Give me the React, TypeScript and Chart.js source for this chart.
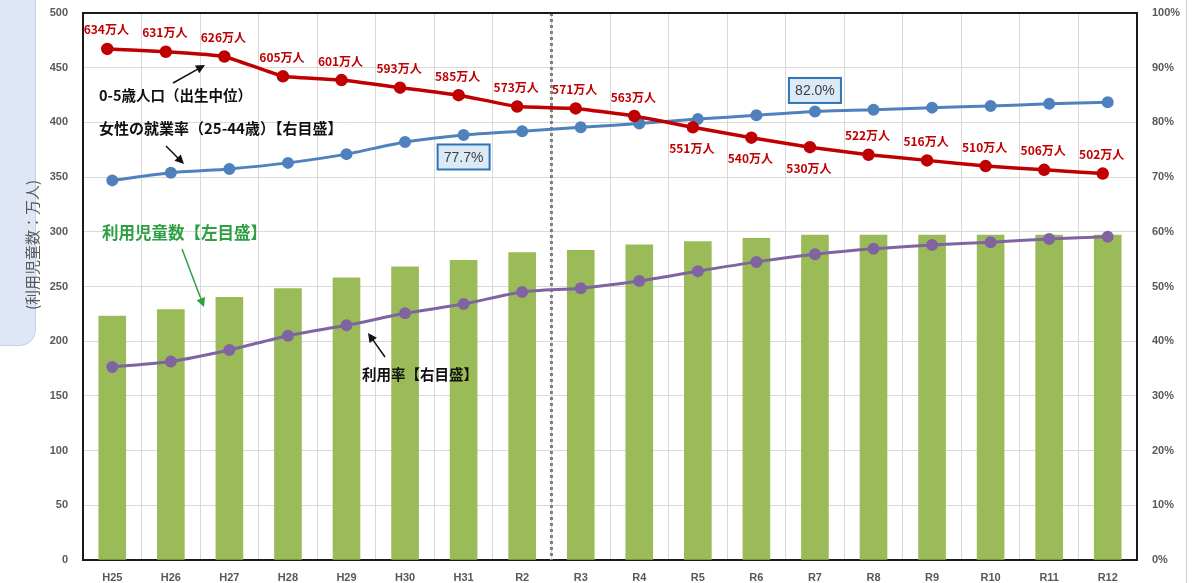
import React, { useEffect, useRef } from "react";
import { Chart, registerables } from "chart.js";

Chart.register(...registerables);

const categories = ["H25", "H26", "H27", "H28", "H29", "H30", "H31", "R2", "R3", "R4", "R5", "R6", "R7", "R8", "R9", "R10", "R11", "R12"];
const childrenUsing = [223, 229, 240, 248, 258, 268, 274, 281, 283, 288, 291, 294, 297, 297, 297, 297, 297, 297];
const usageRate = [35.3, 36.3, 38.4, 41.0, 42.9, 45.1, 46.8, 49.0, 49.7, 51.0, 52.8, 54.5, 55.9, 56.9, 57.6, 58.1, 58.7, 59.1];
const femaleEmployment = [69.4, 70.8, 71.5, 72.6, 74.2, 76.4, 77.7, 78.4, 79.1, 79.8, 80.6, 81.3, 82.0, 82.3, 82.7, 83.0, 83.4, 83.7];
const population = [634, 631, 626, 605, 601, 593, 585, 573, 571, 563, 551, 540, 530, 522, 516, 510, 506, 502];
const populationLabels = population.map((v) => `${v}万人`);
const leftTicks = { min: 0, max: 500, step: 50 };
const rightTicks = { min: 0, max: 100, step: 10 };
const highlighted = [
  { index: 6, text: "77.7%", below: true },
  { index: 12, text: "82.0%", below: false },
];

const POP_SHIFT = -5; // the population series sits slightly left of the category centres in the original
const TICK_FONT = { family: "'Liberation Sans', Arial, sans-serif", size: 11, weight: "bold" as const };
const JP = "'Noto Sans CJK JP', sans-serif";

function arrow(ctx: CanvasRenderingContext2D, x1: number, y1: number, x2: number, y2: number, color: string) {
  const ang = Math.atan2(y2 - y1, x2 - x1);
  const hl = 9, hw = 4.5;
  ctx.save();
  ctx.strokeStyle = color;
  ctx.fillStyle = color;
  ctx.lineWidth = 1.5;
  ctx.beginPath();
  ctx.moveTo(x1, y1);
  ctx.lineTo(x2 - Math.cos(ang) * hl * 0.8, y2 - Math.sin(ang) * hl * 0.8);
  ctx.stroke();
  ctx.beginPath();
  ctx.moveTo(x2, y2);
  ctx.lineTo(x2 - Math.cos(ang) * hl - Math.sin(ang) * hw, y2 - Math.sin(ang) * hl + Math.cos(ang) * hw);
  ctx.lineTo(x2 - Math.cos(ang) * hl + Math.sin(ang) * hw, y2 - Math.sin(ang) * hl - Math.cos(ang) * hw);
  ctx.closePath();
  ctx.fill();
  ctx.restore();
}

const decorPlugin = {
  id: "decor",
  beforeDatasetsDraw(chart: any) {
    const { ctx, chartArea, scales } = chart;
    const x = scales.x;
    const xd = (x.getPixelForValue(7) + x.getPixelForValue(8)) / 2;
    ctx.save();
    ctx.strokeStyle = "#7f7f7f";
    ctx.lineWidth = 3;
    ctx.setLineDash([3, 3]);
    ctx.beginPath();
    ctx.moveTo(xd, chartArea.top);
    ctx.lineTo(xd, chartArea.bottom);
    ctx.stroke();
    ctx.restore();
  },
  beforeDatasetDraw(chart: any, args: any) {
    if (args.index === 0) {
      chart.ctx.save();
      chart.ctx.translate(POP_SHIFT, 0);
    }
  },
  afterDatasetDraw(chart: any, args: any) {
    if (args.index === 0) chart.ctx.restore();
  },
  afterDatasetsDraw(chart: any) {
    const { ctx, chartArea, scales } = chart;
    const x = scales.x;
    // top frame
    ctx.save();
    ctx.strokeStyle = "#1a1a1a";
    ctx.lineWidth = 2;
    ctx.beginPath();
    ctx.moveTo(chartArea.left, chartArea.top);
    ctx.lineTo(chartArea.right, chartArea.top);
    ctx.stroke();
    ctx.restore();

    // population labels
    ctx.save();
    ctx.font = `bold 12px ${JP}`;
    ctx.fillStyle = "#c00000";
    ctx.textAlign = "center";
    ctx.textBaseline = "middle";
    populationLabels.forEach((t, i) => {
      const px = x.getPixelForValue(i) + POP_SHIFT;
      const py = scales.yPop.getPixelForValue(population[i]);
      const below = i >= 10 && i <= 12;
      ctx.fillText(t, px - 1, py + (below ? 21 : -19));
    });
    ctx.restore();

    // highlighted boxes
    highlighted.forEach((h) => {
      const px = x.getPixelForValue(h.index);
      const py = scales.yRate.getPixelForValue(femaleEmployment[h.index]);
      const cy = py + (h.below ? 22 : -21);
      const w = 52, hh = 25;
      ctx.save();
      ctx.fillStyle = "#dce9f6";
      ctx.strokeStyle = "#2e75b6";
      ctx.lineWidth = 2;
      ctx.fillRect(px - w / 2, cy - hh / 2, w, hh);
      ctx.strokeRect(px - w / 2, cy - hh / 2, w, hh);
      ctx.fillStyle = "#404040";
      ctx.font = `14px 'Liberation Sans', Arial, sans-serif`;
      ctx.textAlign = "center";
      ctx.textBaseline = "middle";
      ctx.fillText(h.text, px, cy + 1);
      ctx.restore();
    });

    // annotations
    ctx.save();
    ctx.textBaseline = "middle";
    ctx.textAlign = "left";
    ctx.fillStyle = "#111";
    ctx.font = `bold 14.5px ${JP}`;
    ctx.fillText("0-5歳人口（出生中位）", 99, 95);
    ctx.font = `bold 15px ${JP}`;
    ctx.fillText("女性の就業率（25-44歳）【右目盛】", 99, 128);
    ctx.font = `bold 14.5px ${JP}`;
    ctx.fillText("利用率【右目盛】", 362, 374);
    ctx.fillStyle = "#2ea043";
    ctx.font = `bold 16.5px ${JP}`;
    ctx.fillText("利用児童数【左目盛】", 102, 233);
    ctx.restore();

    arrow(ctx, 173, 83, 205, 65, "#111");
    arrow(ctx, 166, 146, 184, 164, "#111");
    arrow(ctx, 182, 249, 204, 307, "#2ea043");
    arrow(ctx, 385, 357, 368, 333, "#111");

    // left axis title
    ctx.save();
    ctx.translate(32, 245);
    ctx.rotate(-Math.PI / 2);
    ctx.font = `15px ${JP}`;
    ctx.fillStyle = "#595959";
    ctx.textAlign = "center";
    ctx.textBaseline = "middle";
    ctx.fillText("(利用児童数：万人)", 0, 0);
    ctx.restore();
  },
};

export default function App() {
  const ref = useRef<HTMLCanvasElement | null>(null);
  useEffect(() => {
    document.body.style.margin = "0";
    document.body.style.overflow = "hidden";
    const canvas = ref.current!;
    const chart = new Chart(canvas, {
      type: "bar",
      data: {
        labels: categories,
        datasets: [
          {
            type: "line",
            label: "0-5歳人口（出生中位）",
            data: population,
            yAxisID: "yPop",
            borderColor: "#c00000",
            backgroundColor: "#c00000",
            pointBackgroundColor: "#c00000",
            pointBorderColor: "#c00000",
            borderWidth: 3.5,
            pointRadius: 4.5,
            tension: 0.1,
            order: 1,
          } as any,
          {
            type: "line",
            label: "女性の就業率（25-44歳）",
            data: femaleEmployment,
            yAxisID: "yRate",
            borderColor: "#4f81bd",
            backgroundColor: "#4f81bd",
            pointBackgroundColor: "#4f81bd",
            pointBorderColor: "#4f81bd",
            borderWidth: 3,
            pointRadius: 4.5,
            tension: 0.2,
            order: 2,
          } as any,
          {
            type: "line",
            label: "利用率",
            data: usageRate,
            yAxisID: "yRate",
            borderColor: "#8064a2",
            backgroundColor: "#8064a2",
            pointBackgroundColor: "#8064a2",
            pointBorderColor: "#8064a2",
            borderWidth: 3,
            pointRadius: 4.5,
            tension: 0.25,
            order: 3,
          } as any,
          {
            type: "bar",
            label: "利用児童数",
            data: childrenUsing,
            yAxisID: "y",
            backgroundColor: "#9bbb59",
            barThickness: 27,
            order: 10,
          } as any,
        ],
      },
      options: {
        animation: false,
        responsive: true,
        maintainAspectRatio: false,
        layout: { padding: { top: 13, left: 0, right: 0, bottom: 0 } },
        plugins: { legend: { display: false }, tooltip: { enabled: false } },
        scales: {
          x: {
            grid: { color: "#d9d9d9", offset: true, drawTicks: false },
            border: { color: "#1a1a1a", width: 2 },
            ticks: { color: "#595959", font: TICK_FONT, padding: 11, maxRotation: 0, autoSkip: false },
            afterFit: (s: any) => { s.height = 23; s.paddingLeft = 0; s.paddingRight = 0; },
          },
          y: {
            position: "left",
            min: leftTicks.min,
            max: leftTicks.max,
            ticks: { stepSize: leftTicks.step, color: "#595959", font: TICK_FONT, padding: 15 },
            grid: { color: "#d9d9d9", drawTicks: false },
            border: { color: "#1a1a1a", width: 2 },
            afterFit: (s: any) => { s.width = 83; s.paddingTop = 0; s.paddingBottom = 0; },
          },
          yRate: {
            position: "right",
            min: rightTicks.min,
            max: rightTicks.max,
            ticks: { stepSize: rightTicks.step, color: "#595959", font: TICK_FONT, padding: 15, callback: (v: any) => `${v}%` },
            grid: { display: false, drawTicks: false },
            border: { color: "#1a1a1a", width: 2 },
            afterFit: (s: any) => { s.width = 61; s.paddingTop = 0; s.paddingBottom = 0; },
          },
          yPop: { display: false, min: 93, max: 672 },
        },
      } as any,
      plugins: [decorPlugin],
    });
    return () => chart.destroy();
  }, []);

  return (
    <div style={{ position: "absolute", left: 0, top: 0, width: 1198, height: 583, background: "#fff", overflow: "hidden" }}>
      <div style={{ position: "absolute", left: -20, top: -20, width: 54, height: 364, borderRadius: 16, background: "#dfe6f6", border: "1px solid #c5cfe8" }} />
      <div style={{ position: "absolute", left: 1186, top: 0, width: 1, height: 583, background: "#d0d0d0" }} />
      <div style={{ position: "absolute", left: 0, top: 0, width: 1198, height: 583 }}>
        <canvas ref={ref} />
      </div>
    </div>
  );
}
